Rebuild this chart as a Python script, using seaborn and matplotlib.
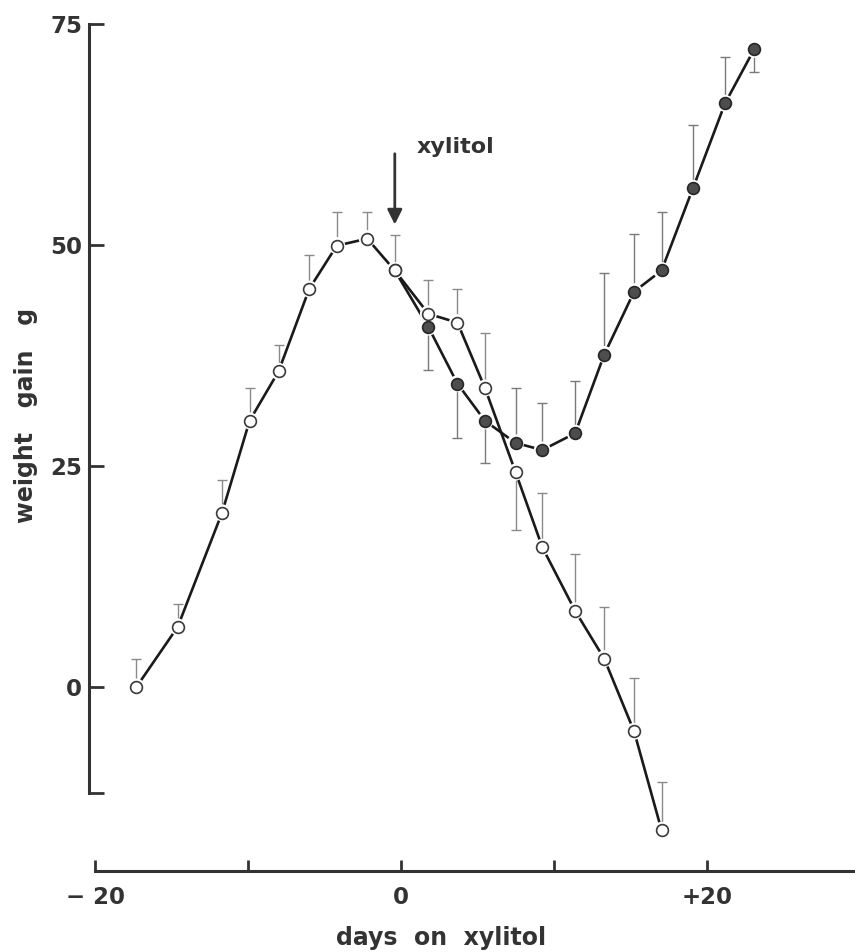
import matplotlib
matplotlib.use("Agg")
import matplotlib.pyplot as plt
import seaborn as sns
import numpy as np
import pandas as pd

# ---- data ----
open_days = [-17.3, -14.6, -11.7, -9.9, -8.0, -6.0, -4.2, -2.2, -0.4,
             1.8, 3.7, 5.5, 7.5, 9.25, 11.4, 13.3, 15.25, 17.05]
open_gain = [0.0, 6.8, 19.7, 30.1, 35.7, 45.0, 49.9, 50.7, 47.1,
             42.2, 41.2, 33.8, 24.3, 15.8, 8.6, 3.2, -5.0, -16.2]
open_err_up = [3.2, 2.6, 3.7, 3.7, 3.0, 3.8, 3.8, 3.0, 4.0,
               3.8, 3.8, 6.2, 0.0, 6.1, 6.4, 5.8, 6.0, 5.5]
open_err_down = [0, 0, 0, 0, 0, 0, 0, 0, 0,
                 0, 0, 0, 6.5, 0, 0, 0, 0, 0]

filled_days = [-0.4, 1.8, 3.7, 5.5, 7.5, 9.25, 11.4, 13.3, 15.25, 17.05, 19.1, 21.2, 23.1]
filled_gain = [47.1, 40.7, 34.3, 30.1, 27.6, 26.8, 28.7, 37.6, 44.7, 47.1, 56.4, 66.0, 72.1]
filled_err_up = [0, 0, 0, 0, 6.2, 5.3, 5.9, 9.2, 6.5, 6.6, 7.1, 5.2, 0]
filled_err_down = [0, 4.8, 6.1, 4.8, 0, 0, 0, 0, 0, 0, 0, 0, 2.6]

y_ticks = [-12, 0, 25, 50, 75]
y_ticklabels = ["", "0", "25", "50", "75"]
x_ticks = [-20, -10, 0, 10, 20]
x_ticklabels = ["\u2212 20", "", "0", "", "+20"]

df_open = pd.DataFrame({"day": open_days, "gain": open_gain})
df_fill = pd.DataFrame({"day": filled_days, "gain": filled_gain})

# ---- style ----
sns.set_theme(style="ticks")
plt.rcParams["font.family"] = ["DejaVu Sans"]
ink = "#333333"

fig = plt.figure(figsize=(8.55, 9.52), dpi=100)
ax = fig.add_axes([89 / 855, 81 / 952, 766 / 855, 857 / 952])

# error bars (thin gray)
ax.errorbar(filled_days, filled_gain, yerr=[filled_err_down, filled_err_up],
            fmt="none", ecolor="#7a7a7a", elinewidth=1.0, capsize=3.5,
            capthick=1.0, zorder=1)
ax.errorbar(open_days, open_gain, yerr=[open_err_down, open_err_up],
            fmt="none", ecolor="#8a8a8a", elinewidth=1.0, capsize=3.5,
            capthick=1.0, zorder=1)

# lines
sns.lineplot(data=df_fill, x="day", y="gain", ax=ax, color="#1a1a1a",
             linewidth=1.9, sort=False, zorder=2)
sns.lineplot(data=df_open, x="day", y="gain", ax=ax, color="#1a1a1a",
             linewidth=1.9, sort=False, zorder=2)

# white halos around markers (gaps in lines)
sns.scatterplot(data=df_fill, x="day", y="gain", ax=ax, s=150, color="white",
                edgecolor="none", zorder=3)
sns.scatterplot(data=df_open, x="day", y="gain", ax=ax, s=150, color="white",
                edgecolor="none", zorder=3)

# markers
sns.scatterplot(data=df_fill, x="day", y="gain", ax=ax, s=72, color="#4d4d4d",
                edgecolor="#262626", linewidth=1.2, zorder=4)
sns.scatterplot(data=df_open, x="day", y="gain", ax=ax, s=72, color="white",
                edgecolor="#3a3a3a", linewidth=1.2, zorder=5)

# arrow + annotation
ax.annotate("", xy=(-0.4, 52.3), xytext=(-0.4, 60.3),
            arrowprops=dict(arrowstyle="-|>", color=ink, lw=2.0,
                            mutation_scale=22, shrinkA=0, shrinkB=0))
ax.text(1.0, 60.4, "xylitol", fontsize=16, fontweight="bold", color=ink,
        ha="left", va="baseline")

# axes
ax.set_xlim(-20.4, 29.7)
ax.set_ylim(-20.8, 76.1)
ax.set_xticks(x_ticks)
ax.set_xticklabels(x_ticklabels)
ax.set_yticks(y_ticks)
ax.set_yticklabels(y_ticklabels)

for s in ["top", "right"]:
    ax.spines[s].set_visible(False)
ax.spines["left"].set_bounds(-12, 75)
ax.spines["bottom"].set_bounds(-20, 29.7)
for s in ["left", "bottom"]:
    ax.spines[s].set_linewidth(2.2)
    ax.spines[s].set_color(ink)

ax.tick_params(axis="y", direction="in", length=11, width=2.0, colors=ink,
               labelsize=16.5, pad=5)
ax.tick_params(axis="x", direction="in", length=8, width=2.0, colors=ink,
               labelsize=16.5, pad=11)
for lab in ax.get_xticklabels() + ax.get_yticklabels():
    lab.set_fontweight("bold")

ax.set_xlabel("days  on  xylitol", fontsize=17, fontweight="bold", color=ink)
ax.set_ylabel("weight   gain   g", fontsize=17, fontweight="bold", color=ink)
ax.xaxis.set_label_coords(0.46, -0.064)
ax.yaxis.set_label_coords(-0.067, 0.531)

fig.savefig("out.png", dpi=100)
